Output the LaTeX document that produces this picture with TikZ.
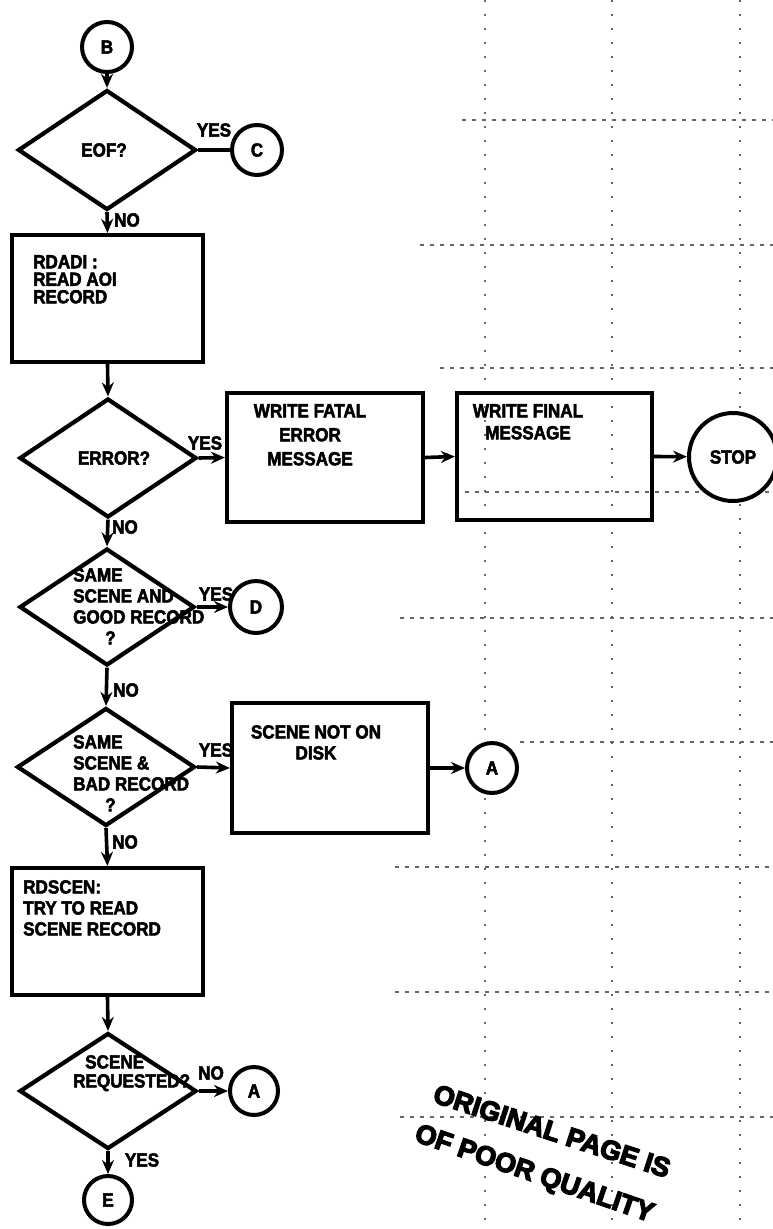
\documentclass[tikz,border=0pt]{standalone}
\usepackage{fontspec}
\newfontfamily\lblfont{Liberation Sans}[FakeStretch=0.9, FakeBold=2.6]
\newfontfamily\stampfont{Liberation Sans}[FakeBold=5]
\usetikzlibrary{shapes.geometric,arrows.meta}
\tikzset{
  txt/.style={font=\lblfont\bfseries\fontsize{19}{21}\selectfont, inner sep=0pt},
  procbox/.style={draw, line width=4.2pt, rectangle, inner sep=0pt},
  decis/.style={draw, line width=4.2pt, diamond, inner sep=0pt},
  conn/.style={draw, fill=white, line width=4pt, circle, inner sep=0pt, minimum size=50pt, font=\lblfont\bfseries\fontsize{19}{21}\selectfont},
  flow/.style={line width=3.6pt, -{Stealth[length=14pt,width=12pt]}},
  plainflow/.style={line width=3.6pt},
  gridh/.style={line width=1.6pt, black!60, dash pattern=on 4pt off 6pt},
  gridv/.style={line width=2pt, black!60, dash pattern=on 2pt off 12pt},
  stamp/.style={font=\stampfont\bfseries\fontsize{27}{27}\selectfont, inner sep=0pt}
}
\begin{document}
\begin{tikzpicture}[x=1pt,y=-1pt]
\useasboundingbox[fill=white] (0,0) rectangle (773,1229);

% faint background grid (scan artefact)
\foreach \yy/\xs in {120/462, 245/420, 368/440, 492/455, 618/400, 742/520, 867/395, 992/395, 1117/400}
  \draw[gridh] (\xs,\yy) -- (773,\yy);
\foreach \xx in {485, 612, 740}
  \draw[gridv] (\xx,0) -- (\xx,1229);

% connectors (circles)
\node[conn] (B) at (107,47) {B};
\node[conn] (C) at (257,150) {C};
\node[conn, minimum size=88pt] (STOP) at (733,457) {STOP};
\node[conn, minimum size=52pt] (D) at (256,607) {D};
\node[conn] (A1) at (492,768) {A};
\node[conn, minimum size=48pt] (A2) at (254,1091) {A};
\node[conn, minimum size=48pt] (E) at (108,1200) {E};

% decisions
\node[decis, minimum width=178pt, minimum height=120pt] (EOF) at (107,150) {};
\node[decis, minimum width=177pt, minimum height=119pt] (ERR) at (108,458) {};
\node[decis, minimum width=175pt, minimum height=117pt] (SG) at (107,607) {};
\node[decis, minimum width=178pt, minimum height=118pt] (SB) at (106,767) {};
\node[decis, minimum width=177pt, minimum height=116pt] (SR) at (108,1091) {};

% processes
\node[procbox, minimum width=191pt, minimum height=127pt] (RDADI) at (107.5,298.5) {};
\node[procbox, minimum width=196pt, minimum height=129pt] (WFATAL) at (325,457.5) {};
\node[procbox, minimum width=195pt, minimum height=127pt] (WFINAL) at (554.5,456.5) {};
\node[procbox, minimum width=196pt, minimum height=130pt] (SND) at (330,768) {};
\node[procbox, minimum width=191pt, minimum height=127pt] (RDSCEN) at (107.5,931.5) {};

% texts
\node[txt] (tEOF) at (104,150) {EOF?};
\node[txt] (tERR) at (114,458) {ERROR?};
\node[txt, align=left, anchor=north west, font=\lblfont\bfseries\fontsize{19}{17.5}\selectfont] (tRDADI) at (33,255) {RDADI :\\READ AOI\\RECORD};
\node[txt, align=center, anchor=north] (tWFATAL) at (310,404) {WRITE FATAL\\[3pt]ERROR\\[3pt]MESSAGE};
\node[txt, align=center, anchor=north] (tWFINAL) at (528,404) {WRITE FINAL\\[1pt]MESSAGE};
\node[txt, align=left, anchor=north west] (tSG) at (73,568) {SAME\\SCENE AND\\GOOD RECORD\\\hspace*{32pt}?};
\node[txt, align=left, anchor=north west] (tSB) at (73,735) {SAME\\SCENE \&\\BAD RECORD\\\hspace*{32pt}?};
\node[txt, align=center, anchor=north] (tSND) at (316,725) {SCENE NOT ON\\DISK};
\node[txt, align=left, anchor=north west] (tRDSCEN) at (23,880) {RDSCEN:\\TRY TO READ\\SCENE RECORD};
\node[txt, align=left, anchor=north west, font=\lblfont\bfseries\fontsize{19}{19}\selectfont] (tSR) at (73,1055) {\hspace*{12pt}SCENE\\REQUESTED?};

% branch labels
\node[txt] (yEOF) at (214,130) {YES};
\node[txt] (nEOF) at (127,220) {NO};
\node[txt] (yERR) at (205,443) {YES};
\node[txt] (nERR) at (125,527) {NO};
\node[txt] (ySG) at (216,594) {YES};
\node[txt] (nSG) at (126,690) {NO};
\node[txt] (ySB) at (216,750) {YES};
\node[txt] (nSB) at (125,842) {NO};
\node[txt] (nSR) at (211,1073) {NO};
\node[txt] (ySR) at (142,1160) {YES};

% flow lines
\draw[flow] (B) -- (EOF.north);
\draw[plainflow] (EOF.east) -- (C);
\draw[flow] (EOF.south) -- (RDADI.north);
\draw[flow] (RDADI.south) -- (ERR.north);
\draw[flow] (ERR.east) -- (WFATAL.west);
\draw[flow] (WFATAL.east) -- (WFINAL.west);
\draw[flow] (WFINAL.east) -- (STOP);
\draw[flow] (ERR.south) -- (SG.north);
\draw[flow] (SG.east) -- (D);
\draw[flow] (SG.south) -- (SB.north);
\draw[flow] (SB.east) -- (SND.west);
\draw[flow] (SND.east) -- (A1);
\draw[flow] (SB.south) -- (RDSCEN.north);
\draw[flow] (RDSCEN.south) -- (SR.north);
\draw[flow] (SR.east) -- (A2);
\draw[flow] (SR.south) -- (E);

% stamp
\node[stamp, rotate=-18] (st1) at (552,1131) {ORIGINAL PAGE IS};
\node[stamp, rotate=-19] (st2) at (534,1175) {OF POOR QUALITY};
\end{tikzpicture}
\end{document}
